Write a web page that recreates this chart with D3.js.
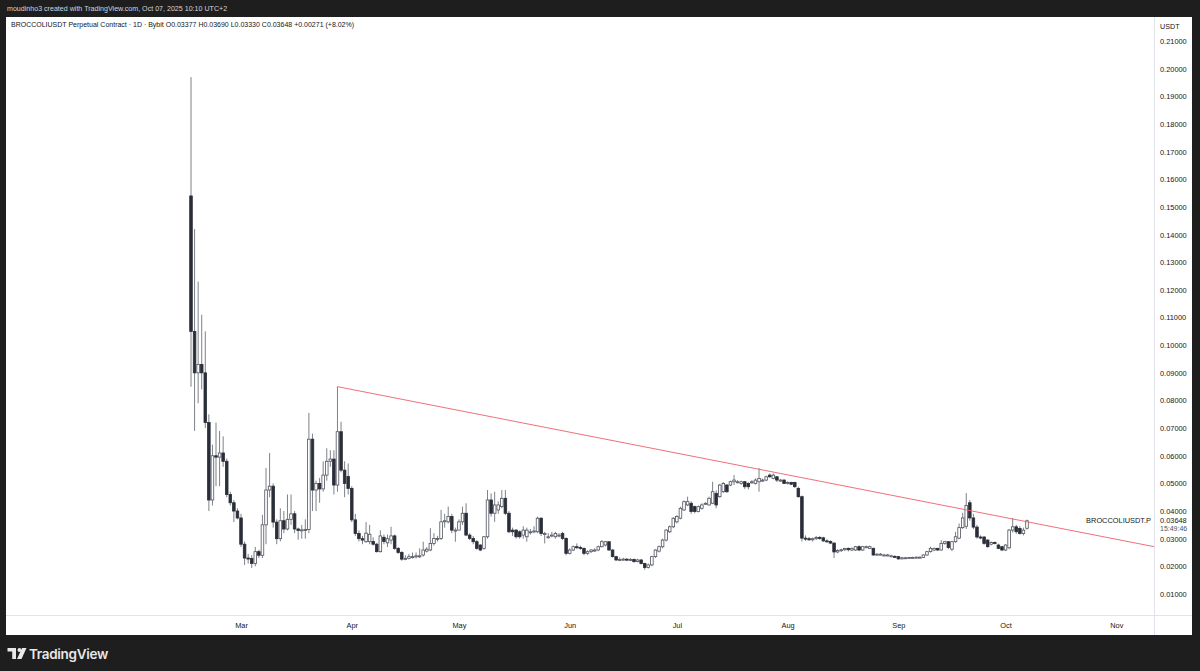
<!DOCTYPE html>
<html><head><meta charset="utf-8">
<script src="https://cdn.jsdelivr.net/npm/d3@7"></script>
<style>html,body{margin:0;padding:0;background:#1e1e1e;}svg{display:block}</style>
</head><body>
<svg id="c" width="1200" height="671"></svg>
<script>
// ---- DATA: daily candles [open, high, low, close], BROCCOLIUSDT.P 1D ----
const firstDay = "2025-02-15";
const feb = [
[.154,.197,.085,.105],[.105,.142,.069,.090],[.090,.123,.079,.093],[.093,.111,.084,.090],
[.090,.105,.070,.072],[.072,.075,.040,.044],[.044,.064,.042,.060],[.060,.072,.049,.0595],
[.0595,.069,.049,.061],[.061,.067,.056,.058],[.058,.059,.045,.046],[.046,.047,.042,.043],
[.043,.044,.036,.040],[.040,.041,.037,.0375]];
const mar = [
[.0375,.039,.027,.028],[.028,.029,.0205,.023],[.023,.0245,.021,.0228],[.0228,.024,.0194,.021],
[.021,.027,.020,.0253],[.0253,.026,.023,.024],[.024,.0386,.023,.035],[.035,.0556,.028,.0476],
[.0476,.061,.045,.049],[.049,.050,.034,.036],[.036,.037,.028,.030],[.030,.041,.029,.0365],
[.0365,.040,.032,.0335],[.0335,.046,.033,.037],[.037,.046,.035,.039],[.039,.040,.032,.0335],
[.0335,.034,.0296,.033],[.033,.035,.030,.0332],[.0332,.037,.030,.0333],[.0333,.0755,.032,.066],
[.066,.068,.040,.0476],[.0476,.051,.040,.050],[.050,.052,.043,.048],[.048,.058,.047,.053],
[.053,.0627,.051,.058],[.058,.062,.056,.0588],[.0588,.062,.046,.0494],[.0494,.085,.047,.0687],
[.0687,.0723,.054,.0548],[.0548,.058,.045,.050],[.0525,.0572,.046,.0482]];
const apr = [
[.0482,.049,.036,.0368],[.0368,.039,.031,.0319],[.0319,.033,.029,.030],[.030,.031,.028,.0295],
[.0289,.036,.0285,.032],[.0289,.035,.028,.0316],[.0290,.0305,.0275,.028],[.028,.0285,.025,.0253],
[.0253,.033,.025,.031],[.0305,.0315,.028,.029],[.0285,.0315,.027,.030],[.0295,.0343,.028,.031],
[.031,.0315,.026,.0265],[.0265,.027,.0245,.025],[.025,.0255,.022,.0226],[.0226,.024,.0222,.0229],
[.0229,.0245,.0225,.0235],[.0235,.025,.0228,.0235],[.0235,.025,.0228,.0238],[.0238,.0265,.023,.0238],
[.0241,.0289,.0235,.0259],[.0255,.027,.025,.0262],[.0259,.0338,.0255,.0283],[.0283,.032,.0275,.0301],
[.0301,.031,.029,.0301],[.0301,.0404,.0295,.0361],[.0361,.039,.034,.0365],[.0361,.0416,.0355,.038],
[.038,.039,.032,.0331],[.0331,.034,.0289,.0331]];
const may = [
[.0331,.037,.033,.0361],[.0361,.0416,.035,.0392],[.0392,.0428,.031,.0313],[.0313,.032,.0295,.0301],
[.0301,.031,.028,.0289],[.0289,.0295,.026,.0265],[.0277,.028,.0255,.0259],[.0265,.031,.026,.0307],
[.0307,.0476,.030,.044],[.044,.0464,.038,.0392],[.0392,.047,.0361,.0422],[.0404,.0435,.039,.0422],
[.0416,.0476,.041,.0446],[.0446,.0476,.0386,.0392],[.0392,.040,.032,.0325],[.0331,.034,.031,.0325],
[.0331,.0335,.030,.0307],[.0325,.033,.030,.0307],[.0313,.0345,.030,.0331],[.0307,.034,.0289,.0331],
[.0325,.0335,.0315,.0325],[.0328,.0345,.032,.0328],[.0325,.038,.032,.0374],[.0374,.0378,.031,.0319],
[.0319,.0325,.0283,.0319],[.0307,.032,.030,.0307],[.0313,.0325,.0305,.0313],[.0307,.0325,.030,.0319],
[.0313,.032,.0305,.0313],[.0319,.0325,.0295,.0301],[.0301,.0305,.024,.0247]];
const jun = [
[.0247,.0265,.0243,.0259],[.0259,.0275,.0255,.0271],[.0271,.0283,.0262,.0268],[.0268,.0275,.026,.0265],
[.0265,.0268,.024,.0247],[.0247,.0258,.0241,.0253],[.0253,.0262,.0248,.0259],[.0259,.0265,.0252,.0259],
[.0259,.0275,.0255,.0271],[.0271,.0295,.0268,.0289],[.0277,.0292,.0272,.0289],[.0289,.029,.0256,.0259],
[.0259,.0262,.0232,.0235],[.0235,.0238,.0219,.0223],[.0223,.0232,.0219,.0225],[.0225,.0231,.022,.0226],
[.0226,.0229,.0219,.0223],[.0223,.023,.0219,.0225],[.0225,.0228,.0213,.0217],[.0217,.0227,.0214,.0223],
[.0223,.0226,.0207,.0210],[.0210,.0213,.0188,.0196],[.0196,.021,.0192,.0205],[.0205,.0238,.020,.0235],
[.0235,.0262,.023,.0259],[.0255,.0275,.025,.0271],[.0271,.030,.0265,.0295],[.0295,.0335,.029,.0331],
[.0325,.0348,.032,.0343],[.0343,.0378,.0338,.0374]];
const jul = [
[.0361,.0385,.0355,.0380],[.0374,.0416,.0370,.0410],[.0404,.0438,.0400,.0434],[.0422,.0452,.0418,.0434],
[.0428,.0435,.0390,.0398],[.0416,.0420,.0392,.0398],[.0398,.0420,.0395,.0416],[.0410,.0428,.0405,.0422],
[.0428,.0432,.0422,.0428],[.0422,.0452,.0420,.0446],[.0428,.0506,.0425,.0470],[.0464,.0475,.0410,.0422],
[.0452,.0498,.0448,.0494],[.0470,.0505,.0465,.0500],[.0494,.0498,.0465,.0470],[.0494,.0510,.0490,.0506],
[.0506,.0530,.0494,.0512],[.0506,.0512,.0500,.0506],[.0500,.0510,.0495,.0506],[.0506,.0509,.0480,.0488],
[.0500,.0504,.0478,.0488],[.0506,.0512,.0498,.0506],[.0500,.0518,.0496,.0512],[.0506,.0555,.0470,.0518],
[.0512,.0518,.0505,.0512],[.0512,.0528,.0508,.0524],[.0530,.0536,.0520,.0524],[.0518,.0536,.0515,.0530],
[.0524,.0526,.0505,.0512],[.0512,.0516,.0505,.0512],[.0512,.0515,.0498,.0500]];
const aug = [
[.0500,.0508,.0496,.0503],[.0503,.0506,.0494,.0497],[.0503,.0506,.0484,.0488],[.0482,.0488,.0448,.0452],
[.0452,.0456,.0290,.0302],[.0302,.0312,.0292,.0300],[.0300,.0306,.0292,.0296],[.0296,.0304,.0290,.0300],
[.0300,.0310,.0295,.0304],[.0304,.0310,.0296,.0301],[.0303,.0307,.0288,.0292],[.0292,.0298,.0286,.0290],
[.0290,.0294,.0280,.0284],[.0284,.0287,.0230,.0252],[.0252,.0262,.0247,.0257],[.0257,.0264,.0252,.0260],
[.0260,.0267,.0255,.0265],[.0265,.0268,.0254,.0260],[.0259,.0268,.0255,.0265],[.0259,.0274,.0256,.0271],
[.0271,.0276,.0255,.0259],[.0259,.0274,.0256,.0271],[.0271,.0275,.0265,.0271],[.0265,.0275,.0262,.0271],
[.0265,.0268,.0238,.0241],[.0244,.0248,.0239,.0244],[.0244,.0248,.0240,.0244],[.0241,.0245,.0237,.0241],
[.0241,.0245,.0237,.0241],[.0238,.0242,.0234,.0238],[.0236,.0240,.0232,.0235]];
const sep = [
[.0235,.0237,.0224,.0227],[.0227,.0234,.0225,.0231],[.0231,.0234,.0228,.0231],[.0231,.0234,.0228,.0232],
[.0232,.0235,.0229,.0232],[.0232,.0236,.0229,.0233],[.0233,.0236,.0230,.0233],[.0232,.0243,.0230,.0241],
[.0241,.0256,.0238,.0253],[.0253,.0271,.0250,.0265],[.0259,.0268,.0255,.0265],[.0265,.0267,.0256,.0259],
[.0259,.0295,.0257,.0283],[.0283,.0292,.0278,.0289],[.0289,.0291,.0262,.0268],[.0262,.0292,.0255,.0289],
[.0289,.0325,.0285,.0307],[.0302,.0355,.0298,.0340],[.0340,.0394,.0335,.0375],[.0345,.0465,.0335,.0420],
[.0430,.0440,.0365,.0375],[.0375,.0390,.0335,.0342],[.0342,.0350,.0300,.0306],[.0306,.0312,.0298,.0304],
[.0306,.0310,.0278,.0283],[.0295,.0298,.0268,.0271],[.0280,.0290,.0276,.0286],[.0286,.0290,.0279,.0283],
[.0277,.0282,.0262,.0265],[.0271,.0274,.0255,.0259]];
const oct = [
[.0259,.0280,.0255,.0277],[.0267,.0335,.0262,.0331],[.0331,.0375,.0322,.0343],[.0343,.0350,.0318,.0325],
[.0337,.0345,.0315,.0319],[.0319,.0340,.0312,.0331],[.03377,.03690,.03330,.03648]];

const priceTicks = [0.01,0.02,0.03,0.04,0.05,0.06,0.07,0.08,0.09,0.10,0.11,0.12,0.13,0.14,0.15,0.16,0.17,0.18,0.19,0.20,0.21];
const monthTicks = ["2025-03-01","2025-04-01","2025-05-01","2025-06-01","2025-07-01","2025-08-01","2025-09-01","2025-10-01","2025-11-01"];
const trendline = [["2025-03-28",0.0850],["2025-11-12",0.0270]];
const headerText = "moudinho3 created with TradingView.com, Oct 07, 2025 10:10 UTC+2";
const legendText = "BROCCOLIUSDT Perpetual Contract · 1D · Bybit  O0.03377  H0.03690  L0.03330  C0.03648  +0.00271 (+8.02%)";
const symbolLabel = "BROCCOLIUSDT.P";
const lastPrice = 0.03648;
const countdown = "15:49:46";

// ---- build ----
const DAY = 864e5;
const t0 = Date.parse(firstDay + "T00:00:00Z");
const candles = [feb, mar, apr, may, jun, jul, aug, sep, oct].flat().map((r, i) => ({
  date: new Date(t0 + i * DAY), o: r[0], h: r[1], l: r[2], c: r[3]
}));

const svg = d3.select("#c");
const FONT = "'Liberation Sans', 'DejaVu Sans', sans-serif";
const panel = {x: 6, y: 17, r: 1192, b: 635};
const plot = {left: 6, right: 1154, top: 17, bottom: 615};
const firstX = 191, pxPerDay = 3.5726;

const x = d3.scaleUtc()
  .domain([new Date(t0 - (firstX - plot.left) / pxPerDay * DAY), new Date(t0 + (plot.right - firstX) / pxPerDay * DAY)])
  .range([plot.left, plot.right]);
const y = d3.scaleLinear().domain([0, 0.21]).range([621.6, 621.6 - 0.21 * 2764]);

// frame
svg.append("rect").attr("width", 1200).attr("height", 671).attr("fill", "#1e1e1e");
svg.append("rect").attr("x", panel.x).attr("y", panel.y).attr("width", panel.r - panel.x).attr("height", panel.b - panel.y).attr("fill", "#ffffff");

svg.append("text").attr("x", 7).attr("y", 11).attr("fill", "#d1d4dc")
  .style("font-family", FONT).style("font-size", "7.1px").text(headerText);
svg.append("text").attr("x", 11).attr("y", 27).attr("fill", "#131722")
  .style("font-family", FONT).style("font-size", "7px").text(legendText);

// separators
svg.append("line").attr("x1", plot.right + 0.5).attr("x2", plot.right + 0.5).attr("y1", panel.y).attr("y2", panel.b)
  .attr("stroke", "#e0e3eb").attr("stroke-width", 1);
svg.append("line").attr("x1", panel.x).attr("x2", panel.r).attr("y1", plot.bottom + 0.5).attr("y2", plot.bottom + 0.5)
  .attr("stroke", "#e0e3eb").attr("stroke-width", 1);

// clip
svg.append("defs").append("clipPath").attr("id", "clip").append("rect")
  .attr("x", plot.left).attr("y", plot.top).attr("width", plot.right - plot.left).attr("height", plot.bottom - plot.top);
const g = svg.append("g").attr("clip-path", "url(#clip)");

// wicks
g.selectAll("line.wick").data(candles).join("line").attr("class", "wick")
  .attr("x1", d => x(d.date)).attr("x2", d => x(d.date))
  .attr("y1", d => y(Math.max(d.h, d.o, d.c))).attr("y2", d => y(Math.min(d.l, d.o, d.c)))
  .attr("stroke", "#70737c").attr("stroke-width", 0.9);

// bodies
const bw = 2.6;
g.selectAll("rect.body").data(candles).join("rect").attr("class", "body")
  .attr("x", d => x(d.date) - bw / 2)
  .attr("y", d => y(Math.max(d.o, d.c)))
  .attr("width", bw)
  .attr("height", d => Math.max(1, Math.abs(y(d.o) - y(d.c))))
  .attr("fill", d => d.c >= d.o ? "#ffffff" : "#2a2e39")
  .attr("stroke", d => d.c >= d.o ? "#50535e" : "#2a2e39")
  .attr("stroke-width", 0.8);

// trend line
g.append("line")
  .attr("x1", x(new Date(trendline[0][0]))).attr("y1", y(trendline[0][1]))
  .attr("x2", x(new Date(trendline[1][0]))).attr("y2", y(trendline[1][1]))
  .attr("stroke", "#f0606e").attr("stroke-width", 1).attr("opacity", 0.9);

// price axis
const yAxis = d3.axisRight(y).tickValues(priceTicks).tickFormat(d => d.toFixed(5)).tickSize(0).tickPadding(6);
const ya = svg.append("g").attr("transform", `translate(${plot.right},0)`).call(yAxis);
ya.select(".domain").remove();
ya.selectAll("text").attr("fill", "#131722").style("font-family", FONT).style("font-size", "7.4px");

svg.append("text").attr("x", 1160).attr("y", 29).attr("fill", "#131722")
  .style("font-family", FONT).style("font-size", "7.2px").text("USDT");

// time axis
const xAxis = d3.axisBottom(x).tickValues(monthTicks.map(s => new Date(s + "T00:00:00Z")))
  .tickFormat(d3.utcFormat("%b")).tickSize(0).tickPadding(8);
const xa = svg.append("g").attr("transform", `translate(0,${plot.bottom})`).call(xAxis);
xa.select(".domain").remove();
xa.selectAll("text").attr("fill", "#131722").style("font-family", FONT).style("font-size", "7.4px");

// last price labels
svg.append("rect").attr("x", plot.right + 1).attr("y", y(lastPrice) - 5).attr("width", 36).attr("height", 18).attr("fill", "#ffffff");
svg.append("text").attr("x", 1160).attr("y", y(lastPrice) + 2.6).attr("fill", "#131722")
  .style("font-family", FONT).style("font-size", "7.4px").text(lastPrice.toFixed(5));
svg.append("text").attr("x", 1160).attr("y", y(lastPrice) + 10.6).attr("fill", "#50535e")
  .style("font-family", FONT).style("font-size", "7px").text(countdown);
svg.append("text").attr("x", 1151).attr("y", y(lastPrice) + 2.6).attr("text-anchor", "end").attr("fill", "#131722")
  .style("font-family", FONT).style("font-size", "7.4px").text(symbolLabel);

// TradingView logo
const logo = svg.append("g").attr("fill", "#e8e8e8");
logo.append("path").attr("d", "M7.5,648 H16 V659 H12.2 V651.6 H7.5 Z");
logo.append("circle").attr("cx", 19.4).attr("cy", 650).attr("r", 1.9);
logo.append("path").attr("d", "M22,648 H26.5 L21.5,659 H17 Z");
svg.append("text").attr("x", 29).attr("y", 659).attr("fill", "#e8e8e8")
  .style("font-family", "Inter, 'Open Sans', sans-serif").style("font-size", "13.5px").style("font-weight", "600")
  .style("letter-spacing", "-0.3px").text("TradingView");
</script>
</body></html>
